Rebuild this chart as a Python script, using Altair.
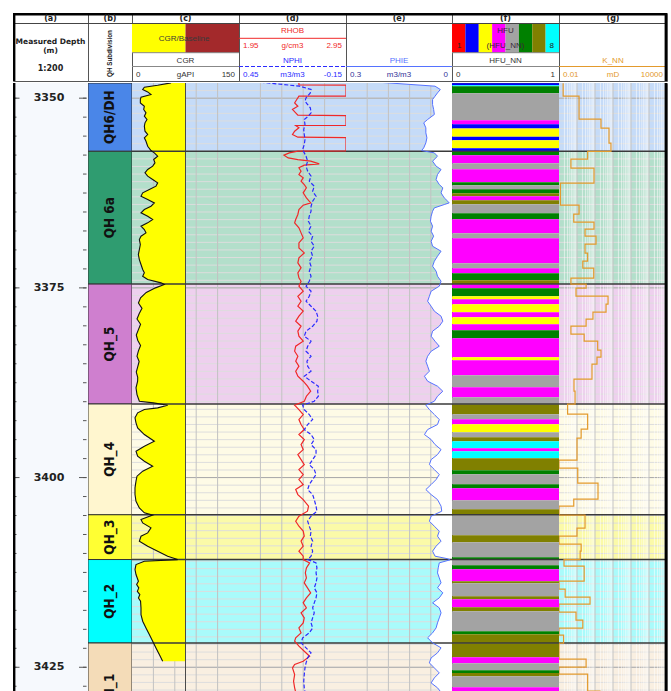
import altair as alt
import pandas as pd

# ------------------------------------------------------------------ layout
PX_PER_M = 7.588                       # vertical scale of the log body (1:200)
BODY_H, HEAD_H = 608, 68               # pixel heights of log body and header
TOP_MD = 3348.0
BASE_MD = TOP_MD + BODY_H / PX_PER_M   # depth window of the log body (m MD)
TW = {"a": 75, "b": 44, "c": 107, "d": 107, "e": 106, "f": 107, "g": 108}

SANS = "Liberation Sans, Arial, sans-serif"
HEAVY = "DejaVu Sans, Verdana, sans-serif"
NARROW = "Liberation Sans Narrow, DejaVu Sans Condensed, Arial Narrow, sans-serif"

# ------------------------------------------------------------------ zonation
ZONE_NAMES = ["QH6/DH", "QH 6a", "QH_5", "QH_4", "QH_3", "QH_2", "QH_1"]
ZONE_TOPS = [3348.0, 3357.0, 3374.5, 3390.3, 3404.9, 3410.8, 3421.8]
ZONE_BASE = 3434.5
ZONE_FILL = ["#4a86e8", "#2f9c70", "#cf7fcf", "#fff6cf", "#ffff33", "#00ffff", "#f4dcb8"]
ZONE_TINT = ["#c5dbf8", "#b3dfcb", "#eed0ee", "#fefbe6", "#fbfaa8", "#a9fbfb", "#f9efe1"]

# ------------------------------------------------------------------ CGR (gAPI)
CGR_MD = [
    3347.98, 3348.29, 3348.55, 3348.86, 3349.17, 3349.52, 3349.87, 3350.18, 3350.62, 3351.06,
    3351.49, 3351.93, 3352.37, 3352.81, 3353.25, 3353.69, 3354.35, 3354.79, 3355.23, 3355.67,
    3356.33, 3356.90, 3357.20, 3357.65, 3358.08, 3358.52, 3358.96, 3359.40, 3359.84, 3360.28,
    3360.72, 3361.16, 3361.60, 3362.04, 3362.48, 3362.92, 3363.36, 3363.80, 3364.24, 3364.68,
    3365.11, 3365.55, 3365.99, 3366.43, 3366.87, 3367.31, 3367.75, 3368.19, 3368.63, 3369.29,
    3369.95, 3370.61, 3371.27, 3371.92, 3372.58, 3373.02, 3373.46, 3373.90, 3374.34, 3374.56,
    3375.00, 3375.60, 3376.30, 3377.00, 3377.70, 3378.40, 3379.10, 3379.80, 3380.50, 3381.20,
    3381.90, 3382.60, 3383.30, 3384.00, 3384.70, 3385.40, 3386.10, 3386.80, 3387.30, 3388.18,
    3389.06, 3389.94, 3390.16, 3390.46, 3390.81, 3391.03, 3391.47, 3392.13, 3392.79, 3393.45,
    3394.33, 3395.21, 3395.87, 3396.53, 3397.19, 3397.84, 3398.50, 3399.16, 3399.82, 3400.48,
    3401.36, 3402.24, 3403.12, 3404.00, 3404.65, 3404.95, 3405.53, 3405.97, 3406.63, 3407.29,
    3407.73, 3408.39, 3409.05, 3409.71, 3410.37, 3410.81, 3411.03, 3411.47, 3412.12, 3412.78,
    3413.66, 3414.10, 3414.54, 3415.00, 3415.42, 3415.86, 3416.30, 3417.18, 3418.06, 3418.93,
    3419.81, 3420.69, 3421.57, 3422.45, 3423.33, 3424.21]
CGR = [
    54.7, 36.0, 17.3, 15.0, 22.0, 26.6, 12.6, 11.7, 11.7, 17.3,
    16.4, 19.6, 17.3, 21.0, 18.2, 17.3, 18.2, 22.0, 17.3, 19.6,
    22.0, 26.6, 31.3, 36.0, 30.4, 32.2, 29.0, 22.0, 18.2, 22.0,
    29.0, 36.0, 33.6, 24.3, 15.0, 12.6, 22.0, 31.3, 26.6, 17.3,
    12.6, 22.0, 29.0, 22.0, 12.6, 17.3, 19.6, 12.6, 10.3, 11.7,
    10.3, 8.9, 10.3, 12.6, 15.0, 17.3, 15.0, 22.0, 40.7, 45.3,
    33.0, 20.0, 12.0, 9.0, 14.0, 10.0, 7.0, 12.0, 9.0, 6.0,
    8.0, 12.0, 9.0, 7.0, 10.0, 8.0, 6.0, 8.0, 7.9, 5.6,
    7.0, 10.3, 30.0, 50.0, 36.0, 17.3, 7.9, 4.2, 5.6, 7.9,
    17.3, 31.3, 17.3, 5.6, 7.9, 17.3, 29.0, 15.0, 7.0, 5.6,
    4.2, 4.2, 5.6, 10.3, 17.3, 29.0, 12.6, 15.0, 26.6, 22.0,
    12.6, 10.3, 22.0, 36.0, 50.0, 64.0, 17.3, 5.6, 4.2, 5.6,
    9.0, 6.5, 9.5, 7.5, 11.0, 9.0, 12.0, 12.6, 12.6, 15.0,
    19.6, 24.3, 29.0, 33.6, 38.3, 43.0]
CGR_BASELINE = 75.0

# ------------------------------------------------------------------ RHOB (g/cm3)
RHOB_MD = [
    3347.98, 3348.25, 3348.27, 3349.72, 3349.74, 3350.18, 3350.62, 3351.06, 3351.49, 3351.93,
    3352.24, 3352.31, 3353.58, 3353.60, 3353.91, 3354.35, 3354.79, 3355.14, 3355.21, 3356.95,
    3356.99, 3357.21, 3357.51, 3357.87, 3358.09, 3358.30, 3358.66, 3358.83, 3359.18, 3359.62,
    3360.06, 3360.50, 3360.94, 3361.38, 3361.82, 3362.48, 3363.14, 3363.80, 3364.10, 3364.68,
    3365.33, 3365.99, 3366.43, 3367.09, 3367.75, 3368.41, 3369.07, 3369.73, 3370.39, 3371.05,
    3371.71, 3372.36, 3373.02, 3373.68, 3374.12, 3374.78, 3375.44, 3376.10, 3376.76, 3377.42,
    3378.07, 3378.73, 3379.39, 3380.05, 3380.71, 3381.37, 3382.03, 3382.69, 3383.35, 3384.01,
    3384.66, 3385.32, 3385.98, 3386.64, 3387.30, 3387.96, 3388.62, 3389.28, 3389.94, 3390.46,
    3391.04, 3391.69, 3392.35, 3393.01, 3393.67, 3394.33, 3394.99, 3395.65, 3396.31, 3396.97,
    3397.63, 3398.29, 3398.94, 3399.60, 3400.26, 3400.92, 3401.58, 3402.24, 3402.90, 3403.77,
    3404.43, 3405.09, 3405.75, 3406.41, 3407.06, 3407.72, 3408.38, 3409.04, 3409.70, 3410.36,
    3410.80, 3411.24, 3411.90, 3412.56, 3413.22, 3413.87, 3414.53, 3415.19, 3415.85, 3416.51,
    3417.17, 3417.83, 3418.49, 3419.15, 3419.81, 3420.47, 3421.12, 3421.56, 3422.22, 3422.88,
    3423.54, 3424.20, 3424.64, 3425.08, 3425.96, 3426.84, 3427.71, 3428.29, 3429.50]
RHOB = [
    2.51, 2.51, 2.95, 2.95, 2.51, 2.49, 2.47, 2.50, 2.45, 2.48,
    2.50, 2.95, 2.95, 2.48, 2.51, 2.47, 2.45, 2.50, 2.95, 2.95,
    2.50, 2.42, 2.37, 2.41, 2.50, 2.62, 2.70, 2.56, 2.51, 2.53,
    2.51, 2.55, 2.53, 2.56, 2.58, 2.55, 2.58, 2.62, 2.55, 2.51,
    2.50, 2.48, 2.47, 2.51, 2.53, 2.55, 2.51, 2.51, 2.56, 2.51,
    2.50, 2.53, 2.50, 2.51, 2.53, 2.51, 2.55, 2.50, 2.53, 2.50,
    2.55, 2.51, 2.48, 2.53, 2.50, 2.51, 2.55, 2.48, 2.47, 2.50,
    2.48, 2.51, 2.48, 2.50, 2.55, 2.59, 2.62, 2.58, 2.56, 2.47,
    2.51, 2.55, 2.51, 2.53, 2.56, 2.51, 2.56, 2.53, 2.55, 2.50,
    2.53, 2.56, 2.51, 2.55, 2.51, 2.55, 2.48, 2.50, 2.55, 2.60,
    2.59, 2.51, 2.48, 2.51, 2.55, 2.56, 2.53, 2.55, 2.51, 2.55,
    2.55, 2.61, 2.58, 2.57, 2.58, 2.56, 2.59, 2.62, 2.58, 2.55,
    2.58, 2.53, 2.56, 2.55, 2.51, 2.53, 2.48, 2.47, 2.51, 2.56,
    2.61, 2.55, 2.47, 2.45, 2.47, 2.46, 2.47, 2.48, 2.48]

# ------------------------------------------------------------------ NPHI (m3/m3)
NPHI_MD = [
    3347.89, 3348.42, 3348.86, 3349.30, 3349.96, 3350.40, 3350.84, 3351.27, 3351.93, 3352.37,
    3352.81, 3353.47, 3354.13, 3354.79, 3355.45, 3356.11, 3356.77, 3357.21, 3357.65, 3358.30,
    3358.96, 3359.62, 3360.28, 3360.94, 3361.60, 3362.26, 3362.92, 3363.58, 3364.24, 3364.90,
    3365.55, 3366.21, 3366.87, 3367.53, 3368.19, 3368.85, 3369.51, 3370.17, 3370.83, 3371.49,
    3372.14, 3372.80, 3373.46, 3374.12, 3374.78, 3375.44, 3376.10, 3376.76, 3377.42, 3378.07,
    3378.73, 3379.39, 3380.05, 3380.71, 3381.37, 3382.03, 3382.69, 3383.35, 3384.01, 3384.66,
    3385.32, 3385.98, 3386.64, 3387.30, 3387.96, 3388.62, 3389.28, 3389.94, 3390.46, 3391.04,
    3391.69, 3392.35, 3393.01, 3393.67, 3394.33, 3394.99, 3395.65, 3396.31, 3396.97, 3397.63,
    3398.29, 3398.94, 3399.60, 3400.26, 3400.92, 3401.58, 3402.24, 3402.90, 3403.77, 3404.43,
    3405.09, 3405.75, 3406.41, 3407.06, 3407.72, 3408.38, 3409.04, 3409.70, 3410.36, 3410.80,
    3411.24, 3411.90, 3412.56, 3413.22, 3413.87, 3414.53, 3415.19, 3415.85, 3416.51, 3417.17,
    3417.83, 3418.49, 3419.15, 3419.81, 3420.47, 3421.12, 3421.78, 3422.44, 3423.10, 3423.76,
    3424.42, 3425.08, 3425.96, 3426.84, 3427.71, 3428.29, 3429.50]
NPHI = [
    0.33, 0.11, 0.046, 0.050, 0.074, 0.080, 0.065, 0.050, 0.046, 0.061,
    0.084, 0.080, 0.087, 0.084, 0.080, 0.084, 0.093, 0.084, 0.074, 0.065,
    0.074, 0.065, 0.046, 0.056, 0.028, 0.037, 0.018, 0.037, 0.046, 0.046,
    0.056, 0.061, 0.046, 0.061, 0.037, 0.046, 0.028, 0.046, 0.037, 0.056,
    0.046, 0.056, 0.046, 0.056, 0.074, 0.046, 0.056, 0.074, 0.046, 0.018,
    0.009, 0.013, 0.037, 0.074, 0.084, 0.046, 0.065, 0.074, 0.046, 0.069,
    0.065, 0.046, 0.084, 0.046, 0.005, 0.009, 0.005, 0.028, 0.093, 0.084,
    0.056, 0.037, 0.065, 0.084, 0.046, 0.028, 0.046, 0.018, 0.018, 0.037,
    0.056, 0.028, 0.018, 0.037, 0.056, 0.065, 0.037, 0.028, 0.018, 0.013,
    0.046, 0.065, 0.056, 0.046, 0.050, 0.037, 0.046, 0.037, 0.046, 0.065,
    0.018, 0.013, 0.018, 0.013, 0.018, 0.028, 0.013, 0.018, 0.028, 0.037,
    0.028, 0.037, 0.046, 0.037, 0.056, 0.093, 0.102, 0.074, 0.046, 0.065,
    0.074, 0.080, 0.084, 0.087, 0.084, 0.080, 0.080]

# ------------------------------------------------------------------ PHIE (m3/m3)
PHIE_MD = [
    3347.89, 3348.42, 3348.86, 3349.30, 3349.74, 3350.18, 3350.84, 3351.49, 3352.15, 3352.81,
    3353.25, 3353.91, 3354.57, 3355.23, 3355.89, 3356.55, 3356.90, 3357.21, 3357.65, 3358.30,
    3358.96, 3359.40, 3360.06, 3360.72, 3361.38, 3361.82, 3362.48, 3363.14, 3363.58, 3363.80,
    3364.02, 3364.46, 3364.90, 3365.55, 3366.21, 3366.87, 3367.53, 3368.19, 3368.85, 3369.51,
    3370.17, 3370.83, 3371.49, 3372.14, 3372.80, 3373.46, 3374.12, 3374.78, 3375.44, 3376.10,
    3376.76, 3377.42, 3378.07, 3378.73, 3379.39, 3380.05, 3380.71, 3381.37, 3382.03, 3382.69,
    3383.35, 3384.01, 3384.66, 3385.32, 3385.98, 3386.64, 3387.30, 3387.96, 3388.62, 3389.28,
    3389.94, 3390.46, 3391.04, 3391.69, 3392.35, 3393.01, 3393.67, 3394.33, 3394.99, 3395.65,
    3396.31, 3396.97, 3397.63, 3398.29, 3398.94, 3399.60, 3400.26, 3400.92, 3401.58, 3402.24,
    3402.90, 3403.77, 3404.43, 3405.09, 3405.75, 3406.41, 3407.06, 3407.72, 3408.38, 3409.04,
    3409.70, 3410.36, 3410.70, 3410.85, 3411.24, 3411.90, 3412.56, 3413.22, 3413.87, 3414.53,
    3415.19, 3415.85, 3416.51, 3417.17, 3417.83, 3418.49, 3419.15, 3419.81, 3420.47, 3421.12,
    3421.78, 3422.44, 3423.10, 3423.76, 3424.42, 3425.08, 3425.74, 3426.40, 3427.06, 3427.71,
    3428.29, 3429.50]
PHIE = [
    0.210, 0.048, 0.033, 0.041, 0.048, 0.055, 0.055, 0.052, 0.050, 0.069,
    0.080, 0.074, 0.074, 0.071, 0.074, 0.080, 0.086, 0.050, 0.041, 0.055,
    0.045, 0.031, 0.041, 0.045, 0.036, 0.026, 0.031, 0.022, 0.012, 0.008,
    0.022, 0.050, 0.055, 0.059, 0.061, 0.055, 0.059, 0.052, 0.059, 0.055,
    0.031, 0.041, 0.050, 0.055, 0.045, 0.041, 0.031, 0.036, 0.059, 0.064,
    0.069, 0.059, 0.050, 0.031, 0.026, 0.036, 0.055, 0.059, 0.048, 0.036,
    0.059, 0.069, 0.074, 0.069, 0.064, 0.078, 0.069, 0.041, 0.026, 0.041,
    0.050, 0.074, 0.064, 0.050, 0.036, 0.041, 0.069, 0.078, 0.059, 0.048,
    0.031, 0.041, 0.059, 0.064, 0.050, 0.036, 0.045, 0.059, 0.074, 0.059,
    0.041, 0.031, 0.029, 0.059, 0.064, 0.050, 0.036, 0.041, 0.031, 0.045,
    0.055, 0.048, 0.012, 0.006, 0.036, 0.039, 0.041, 0.036, 0.031, 0.041,
    0.026, 0.036, 0.055, 0.036, 0.031, 0.036, 0.041, 0.045, 0.055, 0.069,
    0.055, 0.031, 0.041, 0.059, 0.064, 0.050, 0.036, 0.050, 0.059, 0.041,
    0.031, 0.040]

# ------------------------------------------------------------------ HFU_NN facies (interval tops, class 1-8)
HFU_TOP = [
    3348.02, 3348.29, 3348.42, 3349.34, 3352.90, 3353.43, 3354.00, 3355.10, 3355.53, 3356.59,
    3357.00, 3357.51, 3358.57, 3359.36, 3361.07, 3361.47, 3362.00, 3362.52, 3362.92, 3363.44,
    3363.97, 3365.16, 3365.95, 3367.79, 3368.45, 3371.75, 3372.40, 3373.06, 3373.98,
    3374.51, 3375.04, 3376.09, 3376.49, 3377.15, 3378.20, 3378.86, 3379.78, 3380.57, 3381.63,
    3384.13, 3384.53, 3386.51, 3388.09, 3389.40,
    3390.33, 3391.65, 3392.30, 3392.96, 3394.02, 3394.68, 3395.20, 3396.13, 3396.52, 3397.44,
    3399.02, 3399.55, 3400.87, 3401.40, 3402.98, 3404.16,
    3404.95, 3407.59, 3408.51, 3410.49,
    3410.82, 3411.55, 3412.07, 3413.65, 3413.92, 3415.63, 3416.03, 3417.08, 3417.61, 3420.24, 3420.64,
    3421.83, 3423.67, 3424.46, 3425.38, 3425.77, 3426.17, 3427.62]
HFU = [
    2, 8, 6, 5, 4, 2, 3, 2, 3, 2,
    6, 4, 5, 4, 6, 5, 6, 7, 4, 7,
    5, 6, 4, 5, 4, 5, 4, 6, 7,
    4, 6, 3, 4, 3, 4, 3, 4, 6, 4,
    3, 4, 5, 4, 5,
    7, 5, 4, 3, 5, 7, 8, 4, 8, 7,
    6, 5, 6, 4, 5, 7,
    5, 7, 5, 6,
    5, 6, 4, 7, 5, 7, 4, 7, 5, 6, 7,
    7, 4, 5, 6, 7, 5, 4]
HFU_CLASSES = [1, 2, 3, 4, 5, 6, 7, 8]
HFU_COLORS = ["#ff0000", "#0000ff", "#ffff00", "#ff00ff", "#a3a3a3", "#008000", "#808000", "#00ffff"]

# ------------------------------------------------------------------ K_NN permeability (mD, blocky by interval)
KNN_TOP = [
    3348.02, 3349.74, 3352.77, 3353.95, 3355.93, 3357.00, 3358.04, 3359.23, 3361.20, 3364.10,
    3365.29, 3366.34, 3367.26, 3368.19, 3369.24, 3370.43, 3371.48, 3372.40, 3373.72, 3374.51,
    3375.04, 3376.09, 3377.15, 3378.20, 3379.12, 3380.05, 3381.10, 3382.02, 3383.21, 3384.13,
    3385.06, 3387.03, 3388.61, 3390.33, 3391.65, 3393.62, 3394.81, 3397.71, 3398.76, 3400.74,
    3402.85, 3403.77, 3404.95, 3406.67, 3407.72, 3408.78, 3409.70, 3410.82, 3411.68, 3413.65,
    3414.71, 3415.76, 3416.68, 3417.74, 3418.79, 3419.85, 3420.77, 3421.83, 3423.93, 3424.99,
    3425.91, 3428.15]
KNN = [
    0.017, 0.13, 2.15, 6.0, 7.7, 0.39, 0.046, 0.88, 0.012, 0.13,
    0.066, 0.88, 0.28, 1.14, 0.28, 0.39, 0.21, 0.85, 0.046, 0.32,
    0.088, 5.3, 4.1, 0.77, 0.32, 0.046, 0.25, 1.41, 2.15, 1.29,
    0.68, 0.068, 0.078, 0.03, 0.39, 0.17, 0.10, 0.01, 0.11, 1.47,
    0.066, 0.01, 0.28, 0.10, 0.01, 0.17, 0.15, 0.019, 0.25, 0.01,
    0.022, 0.53, 0.01, 0.088, 0.21, 0.01, 0.018, 0.01, 0.32, 0.01,
    0.39, 1.9]
KNN_BASE = 3432.0

# ------------------------------------------------------------------ ticks / grids
DEPTH_LABELS = [3350, 3375, 3400, 3425]
DEPTH_TICKS = [3347.5 + 2.5 * i for i in range(35)]
GRID_MD = [TOP_MD + 1 + i for i in range(int(BASE_MD - TOP_MD))]
CGR_GRID = [30, 60, 90, 120]
RHOB_GRID = [2.15, 2.35, 2.55, 2.75]
PHIE_GRID = [0.06, 0.12, 0.18, 0.24]
KNN_DECADES = [0.1, 1, 10, 100, 1000]
KNN_MINOR = [m * 10.0 ** e for e in range(-2, 4) for m in range(2, 10)]

RED, BLUE, PBLUE, ORANGE = "#f02828", "#2b2bff", "#5572ff", "#e39a2d"

X_CGR = alt.Scale(domain=[0, 150], nice=False, zero=False)
X_RHOB = alt.Scale(domain=[1.95, 2.95], nice=False, zero=False)
X_NPHI = alt.Scale(domain=[-0.15, 0.45], reverse=True, nice=False, zero=False)
X_PHIE = alt.Scale(domain=[0, 0.3], reverse=True, nice=False, zero=False)
X_KNN = alt.Scale(type="log", domain=[0.01, 10000], nice=False)
HFU_SCALE = alt.Scale(domain=HFU_CLASSES, range=HFU_COLORS)
YS = alt.Scale(domain=[TOP_MD, BASE_MD], reverse=True, nice=False, zero=False)


def Y(field):
    return alt.Y(f"{field}:Q", scale=YS, axis=None)


def one_row():
    return pd.DataFrame({"k": [0]})


bots = ZONE_TOPS[1:] + [ZONE_BASE]
ZONES = pd.DataFrame({
    "zone": ZONE_NAMES, "top": ZONE_TOPS, "bot": bots,
    "mid": [(t + b) / 2 for t, b in zip(ZONE_TOPS, bots)],
    "fill": ZONE_FILL, "tint": ZONE_TINT,
})


def curve_df(md, vals):
    return pd.DataFrame({"md": md, "v": vals, "i": list(range(len(md)))})


def step_df(tops, vals, base):
    ends = tops[1:] + [base]
    md, v = [], []
    for t, b, x in zip(tops, ends, vals):
        md += [t, b]
        v += [x, x]
    return curve_df(md, v)


# ------------------------------------------------------------------ body building blocks
def tint_bg(w):
    return alt.Chart(ZONES).mark_rect(clip=True).encode(
        y=Y("top"), y2="bot:Q", x=alt.value(0), x2=alt.value(w),
        color=alt.Color("tint:N", scale=None))


def depth_grid(w):
    light = alt.Chart(pd.DataFrame({"md": GRID_MD})).mark_rule(
        color="#dddddd", strokeWidth=1, clip=True).encode(y=Y("md"), x=alt.value(0), x2=alt.value(w))
    heavy = alt.Chart(pd.DataFrame({"md": DEPTH_LABELS})).mark_rule(
        color="#a9a9a9", strokeWidth=1, clip=True).encode(y=Y("md"), x=alt.value(0), x2=alt.value(w))
    return [light, heavy]


def value_grid(vals, scale, color="#c2c2c2", width=1.0, opacity=1.0):
    return alt.Chart(pd.DataFrame({"v": vals})).mark_rule(
        color=color, strokeWidth=width, opacity=opacity, clip=True).encode(
        x=alt.X("v:Q", scale=scale, axis=None), y=alt.value(0), y2=alt.value(BODY_H))


def zone_lines(w):
    return alt.Chart(ZONES.iloc[1:]).mark_rule(color="#3a3a3a", strokeWidth=1.5, clip=True).encode(
        y=Y("top"), x=alt.value(0), x2=alt.value(w))


def curve(df, scale, color, width=1.2, dash=None):
    kw = dict(color=color, strokeWidth=width, clip=True)
    if dash:
        kw["strokeDash"] = dash
    return alt.Chart(df).mark_line(**kw).encode(
        x=alt.X("v:Q", scale=scale, axis=None), y=Y("md"), order=alt.Order("i:Q"))


def vline(x, h, color="#000", width=2.4):
    return alt.Chart(one_row()).mark_rule(color=color, strokeWidth=width, clip=True).encode(
        x=alt.value(x), y=alt.value(0), y2=alt.value(h))


# ------------------------------------------------------------------ header building blocks
def htext(txt, x, y, size=8, color="#333333", align="center", font=SANS, bold=False, angle=None):
    kw = dict(text=txt, fontSize=size, color=color, align=align, baseline="middle",
              font=font, fontWeight="bold" if bold else "normal", clip=True)
    if angle is not None:
        kw["angle"] = angle
    return alt.Chart(one_row()).mark_text(**kw).encode(x=alt.value(x), y=alt.value(y))


def hrule(x1, x2, y, color="#888888", width=1.0, dash=None):
    kw = dict(color=color, strokeWidth=width, clip=True)
    if dash:
        kw["strokeDash"] = dash
    return alt.Chart(one_row()).mark_rule(**kw).encode(
        x=alt.value(x1), x2=alt.value(x2), y=alt.value(y))


def hbox(x1, x2, y1, y2, fill):
    return alt.Chart(one_row()).mark_rect(color=fill).encode(
        x=alt.value(x1), x2=alt.value(x2), y=alt.value(y1), y2=alt.value(y2))


def head_frame(key):
    w = TW[key]
    return [
        hrule(0, w, 10.5, color="#444444"),
        hrule(0, w, 1.2, color="#000000", width=2.4),
        htext(f"({key})", w / 2, 6, size=8, color="#222222", font=HEAVY, bold=True),
    ]


def scale_row(key, lo, unit, hi, color):
    w = TW[key]
    row = [htext(lo, 4, 61.5, color=color, align="left"),
           htext(hi, w - 4, 61.5, color=color, align="right")]
    if unit:
        row.append(htext(unit, w / 2, 61.5, color=color))
    return row


def head(key, layers):
    return alt.layer(*layers).properties(width=TW[key], height=HEAD_H)


hfu_boxes = alt.Chart(pd.DataFrame({"hfu": HFU_CLASSES})).mark_rect().encode(
    x=alt.X("hfu:O", scale=alt.Scale(paddingInner=0, paddingOuter=0), axis=None),
    y=alt.value(10.5), y2=alt.value(39.7),
    color=alt.Color("hfu:O", scale=HFU_SCALE, legend=None))

headers = [
    head("a", head_frame("a") + [
        htext("Measured Depth", TW["a"] / 2, 29, size=7.5, color="#222222", font=HEAVY, bold=True),
        htext("(m)", TW["a"] / 2, 38, size=7.5, color="#222222", font=HEAVY, bold=True),
        htext("1:200", TW["a"] / 2, 56, size=8, color="#222222", font=HEAVY, bold=True),
        vline(1.2, HEAD_H),
    ]),
    head("b", head_frame("b") + [
        htext("QH Subdivision", TW["b"] / 2, 40.5, size=6.3, color="#222222",
              font=SANS, bold=True, angle=270),
    ]),
    head("c", [
        hbox(0, 53.5, 10.5, 39.7, "#ffff00"),
        hbox(53.5, TW["c"], 10.5, 39.7, "#a3292b"),
        htext("CGR/Baseline", 52, 25.5, color="#3a3a3a"),
        hrule(0, TW["c"], 39.7),
        htext("CGR", TW["c"] / 2, 47.5),
        hrule(0, TW["c"], 53.5),
    ] + scale_row("c", "0", "gAPI", "150", "#333333") + head_frame("c")),
    head("d", [
        htext("RHOB", TW["d"] / 2, 17.7, color=RED),
        hrule(0, TW["d"], 25.3, color=RED),
        htext("1.95", 4, 32.7, color=RED, align="left"),
        htext("g/cm3", TW["d"] / 2, 32.7, color=RED),
        htext("2.95", TW["d"] - 4, 32.7, color=RED, align="right"),
        htext("NPHI", TW["d"] / 2, 47.5, color=BLUE),
        hrule(0, TW["d"], 53.5, color=BLUE, dash=[4, 2]),
    ] + scale_row("d", "0.45", "m3/m3", "-0.15", BLUE) + head_frame("d")),
    head("e", [
        htext("PHIE", TW["e"] / 2, 47.5, color=PBLUE),
        hrule(0, TW["e"], 53.5, color=PBLUE),
    ] + scale_row("e", "0.3", "m3/m3", "0", "#333399") + head_frame("e")),
    head("f", [
        hfu_boxes,
        htext("HFU", TW["f"] / 2, 17.7, color="#3a2a3a"),
        htext("1", 5, 32.7, color="#222222", align="left"),
        htext("(HFU_NN)", TW["f"] / 2, 32.7, color="#3a2a3a"),
        htext("8", TW["f"] - 5, 32.7, color="#222222", align="right"),
        hrule(0, TW["f"], 39.7),
        htext("HFU_NN", TW["f"] / 2, 47.5),
        hrule(0, TW["f"], 53.5),
    ] + scale_row("f", "0", "", "1", "#333333") + head_frame("f")),
    head("g", [
        htext("K_NN", TW["g"] / 2, 47.5, color=ORANGE),
        hrule(0, TW["g"], 53.5, color=ORANGE),
    ] + scale_row("g", "0.01", "mD", "10000", ORANGE) + head_frame("g")
      + [vline(TW["g"] - 1.2, HEAD_H)]),
]

# ------------------------------------------------------------------ body tracks
wa = TW["a"]
ticks = pd.DataFrame({"md": [d for d in DEPTH_TICKS if TOP_MD < d < BASE_MD]})
labels = pd.DataFrame({"md": DEPTH_LABELS, "txt": [str(d) for d in DEPTH_LABELS]})
track_a = alt.layer(
    alt.Chart(one_row()).mark_rect(color="#f6f9fd").encode(
        x=alt.value(0), x2=alt.value(wa), y=alt.value(0), y2=alt.value(BODY_H)),
    alt.Chart(ticks).mark_rule(color="#555555").encode(y=Y("md"), x=alt.value(0), x2=alt.value(3.5)),
    alt.Chart(ticks).mark_rule(color="#555555").encode(y=Y("md"), x=alt.value(wa - 5), x2=alt.value(wa - 1.5)),
    alt.Chart(labels).mark_rule(color="#555555").encode(y=Y("md"), x=alt.value(0), x2=alt.value(6.5)),
    alt.Chart(labels).mark_rule(color="#555555").encode(y=Y("md"), x=alt.value(wa - 9), x2=alt.value(wa - 1.5)),
    alt.Chart(labels).mark_text(font=HEAVY, fontSize=11, fontWeight="bold", color="#222222",
                                baseline="middle", clip=True).encode(y=Y("md"), x=alt.value(36), text="txt:N"),
    vline(1.2, BODY_H),
).properties(width=wa, height=BODY_H)

wb = TW["b"]
track_b = alt.layer(
    alt.Chart(ZONES).mark_rect(stroke="#333333", strokeWidth=1, clip=True).encode(
        y=Y("top"), y2="bot:Q", x=alt.value(0), x2=alt.value(wb),
        color=alt.Color("fill:N", scale=None)),
    alt.Chart(ZONES).mark_text(font=NARROW, fontSize=13.5, fontWeight="bold", color="#111111",
                               angle=270, baseline="middle", align="center", clip=True).encode(
        y=Y("mid"), x=alt.value(wb / 2), text="zone:N"),
).properties(width=wb, height=BODY_H)

wc = TW["c"]
cgr = curve_df(CGR_MD, CGR).assign(base=CGR_BASELINE)
track_c = alt.layer(
    tint_bg(wc), *depth_grid(wc), value_grid(CGR_GRID, X_CGR),
    alt.Chart(cgr).mark_area(orient="horizontal", color="#ffff00", clip=True).encode(
        y=Y("md"), x=alt.X("v:Q", scale=X_CGR, axis=None), x2="base:Q"),
    value_grid([CGR_BASELINE], X_CGR, color="#4a4a4a"),
    zone_lines(wc),
    curve(cgr, X_CGR, "#111111", width=1.1),
).properties(width=wc, height=BODY_H)

wd = TW["d"]
track_d = alt.layer(
    tint_bg(wd), *depth_grid(wd), value_grid(RHOB_GRID, X_RHOB),
    zone_lines(wd),
    curve(curve_df(RHOB_MD, RHOB), X_RHOB, RED, width=1.2),
    curve(curve_df(NPHI_MD, NPHI), X_NPHI, BLUE, width=1.2, dash=[4, 2]),
).resolve_scale(x="independent").properties(width=wd, height=BODY_H)

we = TW["e"]
phie = curve_df(PHIE_MD, PHIE).assign(zero=0.0)
track_e = alt.layer(
    tint_bg(we), *depth_grid(we), value_grid(PHIE_GRID, X_PHIE),
    alt.Chart(phie).mark_area(orient="horizontal", color="#ffffff", clip=True).encode(
        y=Y("md"), x=alt.X("v:Q", scale=X_PHIE, axis=None), x2="zero:Q"),
    zone_lines(we),
    curve(phie, X_PHIE, PBLUE, width=1.0),
).properties(width=we, height=BODY_H)

wf = TW["f"]
hfu = pd.DataFrame({"top": HFU_TOP, "bot": HFU_TOP[1:] + [BASE_MD], "hfu": HFU})
track_f = alt.layer(
    alt.Chart(hfu).mark_rect(clip=True).encode(
        y=Y("top"), y2="bot:Q", x=alt.value(0), x2=alt.value(wf),
        color=alt.Color("hfu:O", scale=HFU_SCALE, legend=None)),
    zone_lines(wf),
).properties(width=wf, height=BODY_H)

wg = TW["g"]
track_g = alt.layer(
    tint_bg(wg), *depth_grid(wg),
    value_grid(KNN_MINOR, X_KNN, color="#ffffff", opacity=0.55),
    value_grid(KNN_DECADES, X_KNN, color="#c4c4c4"),
    zone_lines(wg),
    curve(step_df(KNN_TOP, KNN, KNN_BASE), X_KNN, ORANGE, width=1.2),
    vline(wg - 1.2, BODY_H),
).properties(width=wg, height=BODY_H)

header_row = alt.hconcat(*headers, spacing=0, bounds="flush").resolve_scale(
    x="independent", y="independent", color="independent")
body_row = alt.hconcat(track_a, track_b, track_c, track_d, track_e, track_f, track_g,
                       spacing=0, bounds="flush").resolve_scale(
    x="independent", y="independent", color="independent")

# nested rows keep the default "full" bounds so each row is stacked by its own extent
chart = alt.vconcat(header_row, body_row, spacing=0).properties(
    padding={"left": 12, "top": 12, "right": 0, "bottom": 0},
    background="white",
).configure_view(stroke="#555555", strokeWidth=1)

chart.save("out.html", embed_options={"renderer": "svg", "actions": False})
